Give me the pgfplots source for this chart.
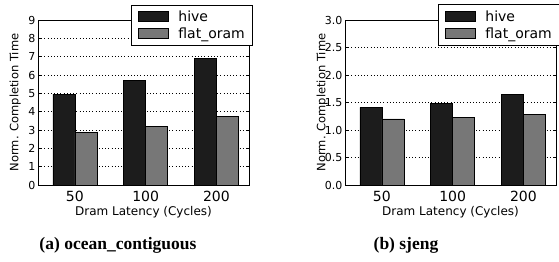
\documentclass[border=0pt]{standalone}
\usepackage{pgfplots}
\pgfplotsset{compat=1.18}
\usepackage{fontspec}
\setmainfont{DejaVu Sans}
\newfontfamily\capfont{Liberation Serif}
\definecolor{hivec}{HTML}{1C1C1C}
\definecolor{flatc}{HTML}{777777}
\pgfplotsset{
  myax/.style={
    scale only axis,
    width=211pt, height=165pt,
    anchor=south west,
    xmin=-0.52, xmax=2.46,
    ymin=0,
    xtick={0,1,2},
    xticklabels={50,100,200},
    /pgf/number format/assume math mode=true,
    ybar, bar width=22pt,
    axis line style={black, line width=0.8pt},
    ymajorgrids,
    major grid style={black, line width=0.7pt, dash pattern=on 0.8pt off 2.4pt},
    tick align=inside,
    major tick length=3pt,
    xtick style={draw=none},
    ytick style={black, line width=0.6pt},
    x tick label style={font=\fontsize{14}{16}\selectfont, yshift=-3pt},
    y tick label style={font=\fontsize{11}{12}\selectfont, xshift=1pt},
    every axis y label/.style={at={(axis description cs:-0.108,0.5)}, rotate=90, anchor=center, font=\fontsize{11.5}{13}\selectfont},
    every axis x label/.style={at={(axis description cs:0.5,-0.164)}, anchor=center, font=\fontsize{12}{14}\selectfont},
    xlabel={Dram Latency (Cycles)},
    ylabel={Norm. Completion Time},
    legend style={at={(rel axis cs:1.02,1.094)}, anchor=north east, draw=black, line width=0.8pt, fill=white,
      font=\fontsize{14}{16}\selectfont, inner xsep=6pt, inner ysep=3.5pt, row sep=1pt},
    legend cell align=left,
    legend image code/.code={\draw[##1, line width=0.8pt] (0pt,-5pt) rectangle (30pt,5pt); \path (38pt,0pt);},
  },
}
\begin{document}
\begin{tikzpicture}
\useasboundingbox (0,0) rectangle (559pt,262pt);
\begin{axis}[myax, at={(38pt,77pt)}, ymax=9, ytick={0,1,...,9}]
\addplot[fill=hivec, draw=black, line width=0.6pt, bar shift=-11pt] coordinates {(0,4.96) (1,5.71) (2,6.89)};
\addplot[fill=flatc, draw=black, line width=0.6pt, bar shift=11pt] coordinates {(0,2.87) (1,3.18) (2,3.74)};
\legend{hive,flat\_oram}
\end{axis}
\begin{axis}[myax, at={(345pt,77pt)}, ymax=3, ytick={0,0.5,...,3},
  yticklabel style={/pgf/number format/fixed, /pgf/number format/precision=1, /pgf/number format/fixed zerofill}]
\addplot[fill=hivec, draw=black, line width=0.6pt, bar shift=-11pt] coordinates {(0,1.41) (1,1.49) (2,1.64)};
\addplot[fill=flatc, draw=black, line width=0.6pt, bar shift=11pt] coordinates {(0,1.20) (1,1.23) (2,1.285)};
\legend{hive,flat\_oram}
\end{axis}
\node[font=\capfont\bfseries\fontsize{17.5}{20}\selectfont, anchor=center] at (118pt,17pt) {(a) ocean\_contiguous};
\node[font=\capfont\bfseries\fontsize{17.5}{20}\selectfont, anchor=center] at (406pt,17pt) {(b) sjeng};
\end{tikzpicture}
\end{document}
